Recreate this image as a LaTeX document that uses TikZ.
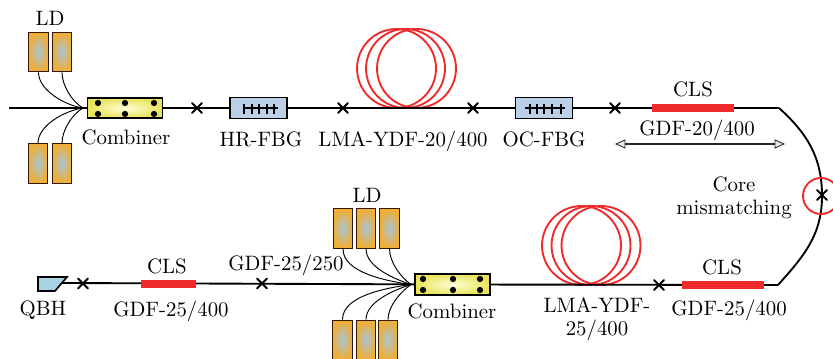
\documentclass[tikz,border=0pt]{standalone}
\usepackage{color}
\usepackage{tikz}
\definecolor{ldorange}{HTML}{EFAE35}
\definecolor{ldblue}{HTML}{A9C4D8}
\definecolor{combyellow}{HTML}{E8E45A}
\definecolor{fbgblue}{HTML}{BBD0E6}
\definecolor{clsred}{HTML}{EE2A2A}
\definecolor{qbhblue}{HTML}{A8D3E0}
\usetikzlibrary{arrows.meta,shapes.misc}
\tikzstyle{ld}=[rectangle, draw=black!80!orange, semithick, inner color=ldblue, outer color=ldorange, minimum width=9.4pt, minimum height=19pt, inner sep=0pt]
\tikzstyle{combiner}=[rectangle, draw=black, thick, inner color=white!85!yellow, outer color=combyellow, minimum width=36pt, minimum height=9.8pt, inner sep=0pt]
\tikzstyle{fbg}=[rectangle, draw=black, thick, fill=fbgblue, minimum width=27.5pt, minimum height=10pt, inner sep=0pt]
\tikzstyle{cls}=[rectangle, fill=clsred, minimum width=39.4pt, minimum height=3.6pt, inner sep=0pt]
\tikzstyle{splice}=[cross out, draw=black, line width=1pt, minimum size=3.6pt, inner sep=0pt, line cap=round]
\tikzstyle{coil}=[circle, draw=clsred, line width=0.9pt, minimum size=37.9pt, inner sep=0pt]
\tikzstyle{dot}=[circle, fill=black, minimum size=3pt, inner sep=0pt]
\tikzstyle{pigtail}=[line width=0.45pt]
\tikzstyle{fiber}=[draw=black, line width=0.9pt]
\begin{document}
\begin{tikzpicture}[x=0.48pt, y=0.48pt, thick]
			\clip (0,0) rectangle (833,359);
			% upper row
			\coordinate (in1) at (9,251);
			\coordinate (bend1) at (779,251);
			\coordinate (bend2) at (778,74);
			\coordinate (qbh) at (60,76);
			\coordinate (mrg1) at (83,251);
			\coordinate (mrg2) at (411,74.5);
			\node[coil] (c1) at (396.5,290.5) {};
			\node[coil] (c2) at (405.5,290.5) {};
			\node[coil] (c3) at (416.5,290.5) {};
			\node[coil] (c4) at (581.5,113.5) {};
			\node[coil] (c5) at (591,113.5) {};
			\node[coil] (c6) at (601,113.5) {};
			\node[combiner] (comb1) at (125,251) {};
			\node[combiner] (comb2) at (452.5,74.5) {};
			\node[fbg] (hr) at (258.5,251) {};
			\node[fbg] (oc) at (544,251) {};
			\path[fiber] (in1)--(comb1)--(hr)--(oc)--(bend1);
			\path[fiber] (qbh)--(comb2)--(bend2);
			\draw[fiber] (bend1) to[out=-42,in=90] (822,163) to[out=-90,in=48] (bend2);
			% fbg marks
			\draw[semithick] (243,251)--(278,251);
			\foreach \x in {244,252,259,267,274} \draw[semithick] (\x,245)--(\x,255);
			\draw[semithick] (525,251)--(565,251);
			\foreach \x in {530,537,544,552,561} \draw[semithick] (\x,245)--(\x,255);
			% combiner dots
			\foreach \x in {98,125,154} {\node[dot] at (\x,256) {}; \node[dot] at (\x,245) {};}
			\foreach \x in {423,453,480} {\node[dot] at (\x,80) {}; \node[dot] at (\x,69) {};}
			% LD
			\node[ld] (ld1) at (38.5,307) {};
			\node[ld] (ld2) at (62,307) {};
			\node[ld] (ld3) at (38,195.5) {};
			\node[ld] (ld4) at (62,195.5) {};
			\node[ld] (ld5) at (343,130.5) {};
			\node[ld] (ld6) at (366,130.5) {};
			\node[ld] (ld7) at (389.5,130.5) {};
			\node[ld] (ld8) at (342.5,19) {};
			\node[ld] (ld9) at (366,19) {};
			\node[ld] (ld10) at (388,19) {};
			\draw[pigtail] (ld1.south) to[out=-90,in=172,looseness=0.8] (mrg1);
			\draw[pigtail] (ld2.south) to[out=-90,in=150,looseness=0.8] (mrg1);
			\draw[pigtail] (ld3.north) to[out=90,in=188,looseness=0.8] (mrg1);
			\draw[pigtail] (ld4.north) to[out=90,in=210,looseness=0.8] (mrg1);
			\draw[pigtail] (ld5.south) to[out=-90,in=172,looseness=0.8] (mrg2);
			\draw[pigtail] (ld6.south) to[out=-90,in=162,looseness=0.8] (mrg2);
			\draw[pigtail] (ld7.south) to[out=-90,in=145,looseness=0.8] (mrg2);
			\draw[pigtail] (ld8.north) to[out=90,in=188,looseness=0.8] (mrg2);
			\draw[pigtail] (ld9.north) to[out=90,in=198,looseness=0.8] (mrg2);
			\draw[pigtail] (ld10.north) to[out=90,in=215,looseness=0.8] (mrg2);
			% CLS
			\node[cls] (cls1) at (693,251) {};
			\node[cls] (cls2) at (723,74) {};
			\node[cls, minimum width=26.4pt] (cls3) at (168.5,75) {};
			% splices
			\node[splice] (s1) at (197,251) {};
			\node[splice] (s2) at (343,251) {};
			\node[splice] (s3) at (473,251) {};
			\node[splice] (s4) at (615,251) {};
			\node[splice] (s5) at (659,74) {};
			\node[splice] (s6) at (822,164) {};
			\node[splice] (s7) at (262,75.5) {};
			\node[splice] (s8) at (83,75.5) {};
			\node[circle, draw=clsred, line width=0.9pt, minimum size=17.3pt, inner sep=0pt] (mis) at (821,163) {};
			% QBH
			\draw[fill=qbhblue] (38,82)--(67,82)--(55,68)--(38,68)--cycle;
			% double arrow
			\coordinate (g1) at (615,215);
			\coordinate (g2) at (785,215);
			\draw[{Triangle[open,fill=fbgblue!50,line width=0.4pt,length=5pt,width=4.4pt]}-{Triangle[open,fill=fbgblue!50,line width=0.4pt,length=5pt,width=4.4pt]}, line width=0.8pt, black!85] (g1)--(g2);
			% labels
			\node (t1) at (50,341) {LD};
			\node (t2) at (126,222) {Combiner};
			\node (t3) at (261,220) {HR-FBG};
			\node (t4) at (403,218) {LMA-YDF-20/400};
			\node (t5) at (544,220) {OC-FBG};
			\node (t6) at (693,270) {CLS};
			\node (t7) at (697,229) {GDF-20/400};
			\node[align=center] (t8) at (734,161.5) {Core\\[-1pt]mismatching};
			\node (t9) at (722,92) {CLS};
			\node (t10) at (729,49) {GDF-25/400};
			\node[align=center] (t11) at (597,39.5) {LMA-YDF-\\[-1pt]25/400};
			\node (t12) at (452,48) {Combiner};
			\node (t13) at (367,164) {LD};
			\node (t14) at (286,94) {GDF-25/250};
			\node (t15) at (167,93) {CLS};
			\node (t16) at (171,48) {GDF-25/400};
			\node (t17) at (43,49) {QBH};
		\end{tikzpicture}
\end{document}
